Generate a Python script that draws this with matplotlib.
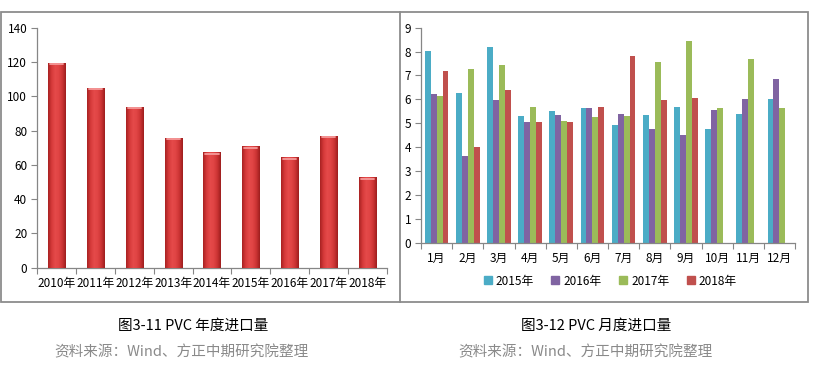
import numpy as np
import matplotlib
matplotlib.use("Agg")
import matplotlib.pyplot as plt
from matplotlib.colors import LinearSegmentedColormap
from matplotlib.patches import Rectangle
from matplotlib.lines import Line2D

plt.rcParams['font.family'] = ['Noto Sans CJK SC', 'DejaVu Sans']

# -----------------------------
# Data
# -----------------------------
years = ["2010年", "2011年", "2012年", "2013年", "2014年", "2015年", "2016年", "2017年", "2018年"]
annual = [119.5, 104.8, 93.8, 75.6, 67.3, 70.8, 64.3, 76.8, 52.7]

months = ["1月", "2月", "3月", "4月", "5月", "6月", "7月", "8月", "9月", "10月", "11月", "12月"]
m2015 = [8.02, 6.25, 8.19, 5.30, 5.53, 5.65, 4.93, 5.34, 5.69, 4.76, 5.37, 6.00]
m2016 = [6.21, 3.64, 5.97, 5.05, 5.34, 5.62, 5.39, 4.76, 4.49, 5.57, 6.00, 6.85]
m2017 = [6.15, 7.26, 7.42, 5.69, 5.09, 5.27, 5.30, 7.55, 8.46, 5.65, 7.67, 5.62]
m2018 = [7.20, 3.99, 6.39, 5.05, 5.05, 5.69, 7.81, 5.96, 6.04, np.nan, np.nan, np.nan]
series_names = ["2015年", "2016年", "2017年", "2018年"]
series_colors = ["#4bacc6", "#8064a2", "#9bbb59", "#c0504d"]

W, H = 814, 370
fig = plt.figure(figsize=(W / 100, H / 100), dpi=100)


def px_axes(x0, y_top, x1, y_bottom):
    return fig.add_axes([x0 / W, 1 - y_bottom / H, (x1 - x0) / W, (y_bottom - y_top) / H])


def style(ax):
    for s in ["top", "right"]:
        ax.spines[s].set_visible(False)
    for s in ["left", "bottom"]:
        ax.spines[s].set_color("#868686")
        ax.spines[s].set_linewidth(0.9)
    ax.tick_params(axis="y", colors="#868686", labelcolor="black", labelsize=8.5,
                   length=4, width=0.8, pad=3)
    ax.tick_params(axis="x", which="minor", colors="#868686", length=4, width=0.8)
    ax.tick_params(axis="x", which="major", length=0, labelsize=8.5, pad=7)


# outer frame
frame = fig.add_axes([0, 0, 1, 1])
frame.set_xlim(0, W)
frame.set_ylim(H, 0)
frame.axis("off")
frame.add_patch(Rectangle((0.5, 12), 807, 290, fill=False, ec="#8c8c8c", lw=1.3))
frame.plot([400, 400], [12, 302], color="#8c8c8c", lw=1.3)

# -----------------------------
# Left: annual imports
# -----------------------------
ax1 = px_axes(37, 27.7, 387, 267.7)
x1 = np.arange(len(years))
bars = ax1.bar(x1, annual, width=0.44, color="#d43a3a", zorder=2)
ax1.set_xticks(x1)
ax1.set_xticklabels(years)
ax1.set_xticks(np.arange(-0.5, len(years)), minor=True)
style(ax1)

# cylinder-like shading of each bar
cmap = LinearSegmentedColormap.from_list(
    "cyl", ["#a82222", "#d63a3a", "#e54a4a", "#e04444", "#cc3434", "#9e1e1e"])
grad = np.linspace(0, 1, 64).reshape(1, -1)
for b in bars:
    x, w, h = b.get_x(), b.get_width(), b.get_height()
    im = ax1.imshow(grad, cmap=cmap, aspect="auto", extent=[x, x + w, 0, h], zorder=3)
    im.set_clip_path(b)
    ax1.plot([x + w * 0.12, x + w * 0.88], [h - 0.7, h - 0.7], color="#f59a9a", lw=1.3,
             zorder=4, solid_capstyle="round")
ax1.set_xlim(-0.5, len(years) - 0.5)
ax1.set_ylim(0, 140)
ax1.set_yticks(range(0, 141, 20))

# -----------------------------
# Right: monthly imports
# -----------------------------
ax2 = px_axes(421, 27.7, 795, 242.7)
x2 = np.arange(len(months))
bw = 0.19
for i, (vals, name, c) in enumerate(zip([m2015, m2016, m2017, m2018], series_names, series_colors)):
    ax2.bar(x2 + (i - 1.5) * bw, vals, width=bw, color=c, label=name, zorder=2)
ax2.set_xlim(-0.5, len(months) - 0.5)
ax2.set_ylim(0, 9)
ax2.set_yticks(range(0, 10))
ax2.set_xticks(x2)
ax2.set_xticklabels(months)
ax2.set_xticks(np.arange(-0.5, len(months)), minor=True)
style(ax2)

handles = [Line2D([], [], marker="s", linestyle="", markersize=6, color=c) for c in series_colors]
fig.legend(handles, series_names, loc="center", bbox_to_anchor=(610 / W, 1 - 281 / H),
           ncol=4, frameon=False, fontsize=8.5, handlelength=0.8, handletextpad=0.3,
           columnspacing=1.4)

# -----------------------------
# Captions
# -----------------------------
fig.text(193 / W, 1 - 326 / H, "图3-11 PVC 年度进口量", ha="center", va="center", fontsize=10.5)
fig.text(181 / W, 1 - 352 / H, "资料来源：Wind、方正中期研究院整理", ha="center", va="center",
         fontsize=10.5, color="#8a8a8a")
fig.text(596 / W, 1 - 326 / H, "图3-12 PVC 月度进口量", ha="center", va="center", fontsize=10.5)
fig.text(585 / W, 1 - 352 / H, "资料来源：Wind、方正中期研究院整理", ha="center", va="center",
         fontsize=10.5, color="#8a8a8a")

fig.savefig("out.png", dpi=100)
